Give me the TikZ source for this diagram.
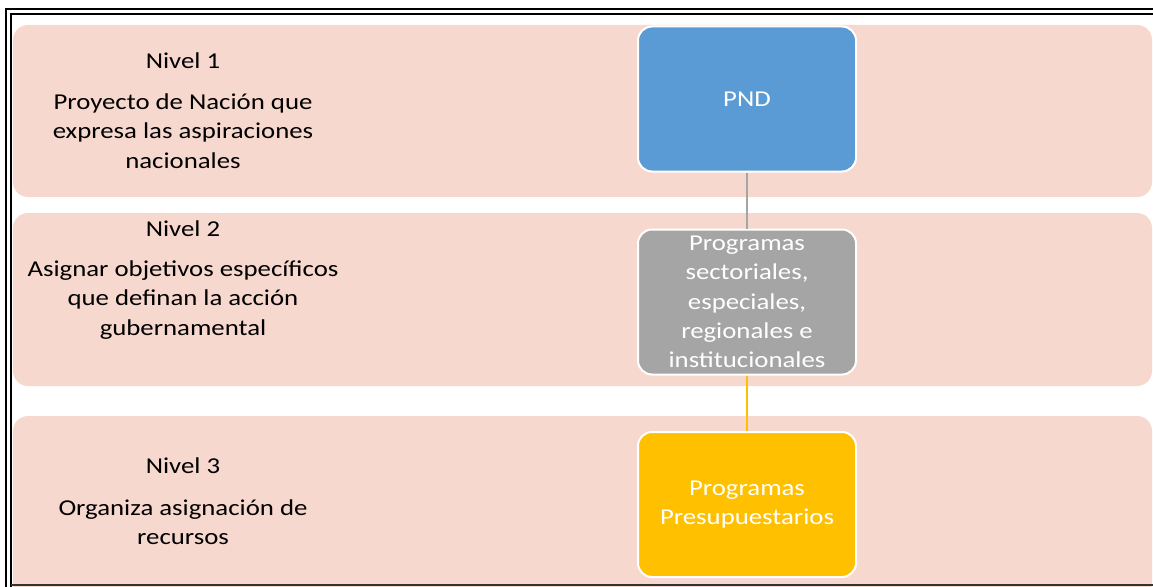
\documentclass[tikz,border=0pt]{standalone}
\usepackage{fontspec}
\setmainfont{Carlito}[FakeStretch=1.18]
\usetikzlibrary{calc}
\definecolor{bandpink}{HTML}{F7D8CE}
\definecolor{pndblue}{HTML}{5B9BD5}
\definecolor{proggray}{HTML}{A5A5A5}
\definecolor{presyellow}{HTML}{FFC000}
\definecolor{framegray}{HTML}{333333}

\begin{document}
\begin{tikzpicture}[x=1pt, y=-1pt,
  band/.style={fill=bandpink, rounded corners=15pt, minimum width=1139pt, inner sep=0pt},
  box/.style={draw=white, line width=2pt, rounded corners=14pt, minimum width=218pt,
    minimum height=145pt, inner sep=2pt, text=white, align=center,
    font=\fontsize{22.7}{29.3}\selectfont},
  lbl/.style={align=center, inner sep=0pt, font=\fontsize{22.7}{29.3}\selectfont}]
  \useasboundingbox (0,0) rectangle (1153,586);

  % franjas de nivel
  \node[band, minimum height=172pt] (b1) at (582.5,111) {};
  \node[band, minimum height=173pt] (b2) at (582.5,299.5) {};
  \node[band, minimum height=182pt] (b3) at (582.5,507) {};

  % marco
  \draw[line width=2pt] (1160,9) -- (6,9) -- (6,592);
  \draw[line width=1.5pt] (1160,14) -- (11,14) -- (11,592);
  \draw[line width=2pt, color=framegray] (11,585) -- (1160,585);

  % cajas
  \node[box, fill=pndblue]    (pnd)  at (747,99)    {PND};
  \node[box, fill=proggray]   (prog) at (747,302)   {Programas\\sectoriales,\\especiales,\\regionales e\\institucionales};
  \node[box, fill=presyellow] (pres) at (747,504.5) {Programas\\Presupuestarios};

  \draw[line width=2pt, color=proggray] (pnd) -- (prog);
  \draw[line width=2pt, color=presyellow] (prog) -- (pres);

  % textos de nivel
  \node[lbl] (n1) at (183,61)  {Nivel 1};
  \node[lbl] (d1) at (183,131) {Proyecto de Nación que\\expresa las aspiraciones\\nacionales};
  \node[lbl] (n2) at (183,229) {Nivel 2};
  \node[lbl] (d2) at (183,300) {Asignar objetivos específicos\\que definan la acción\\gubernamental};
  \node[lbl] (n3) at (183,466) {Nivel 3};
  \node[lbl] (d3) at (183,522.5) {Organiza asignación de\\recursos};
\end{tikzpicture}
\end{document}
